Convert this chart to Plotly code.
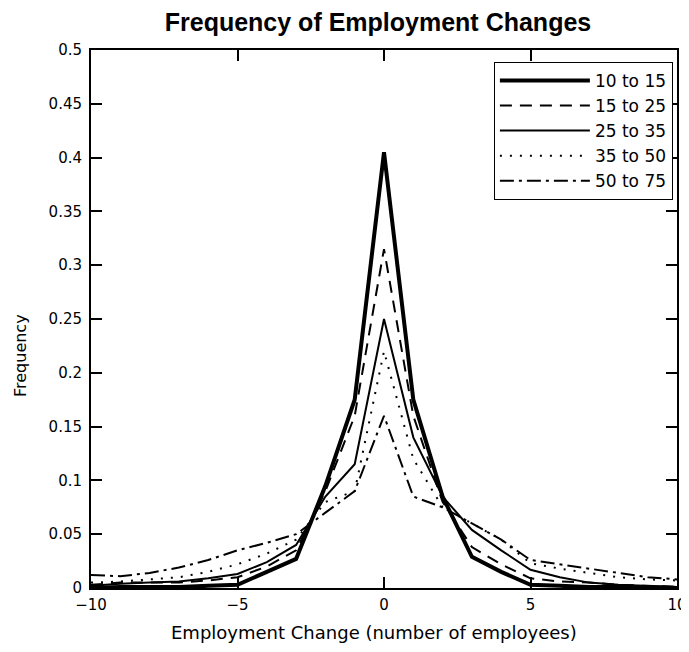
import plotly.graph_objects as go

x_change = list(range(-10, 11))

s_10_15 = [0.0, 0.001, 0.001, 0.001, 0.002, 0.003, 0.015, 0.027, 0.095, 0.175, 0.405,
           0.175, 0.085, 0.029, 0.015, 0.003, 0.002, 0.001, 0.001, 0.001, 0.0]
s_15_25 = [0.003, 0.005, 0.005, 0.005, 0.007, 0.01, 0.02, 0.035, 0.09, 0.16, 0.315,
           0.16, 0.08, 0.038, 0.022, 0.009, 0.006, 0.005, 0.003, 0.002, 0.001]
s_25_35 = [0.002, 0.004, 0.005, 0.006, 0.009, 0.013, 0.024, 0.04, 0.085, 0.115, 0.25,
           0.14, 0.085, 0.054, 0.035, 0.017, 0.01, 0.005, 0.003, 0.002, 0.001]
s_35_50 = [0.005, 0.006, 0.008, 0.01, 0.015, 0.022, 0.032, 0.045, 0.08, 0.09, 0.22,
           0.12, 0.075, 0.06, 0.045, 0.023, 0.018, 0.014, 0.01, 0.008, 0.007]
s_50_75 = [0.012, 0.011, 0.014, 0.019, 0.026, 0.035, 0.042, 0.05, 0.07, 0.09, 0.16,
           0.085, 0.075, 0.06, 0.045, 0.026, 0.022, 0.018, 0.014, 0.01, 0.008]

series_names = ["10 to 15", "15 to 25", "25 to 35", "35 to 50", "50 to 75"]
series_values = [s_10_15, s_15_25, s_25_35, s_35_50, s_50_75]
styles = [
    dict(width=4, dash="solid"),
    dict(width=2, dash="12px,8px"),
    dict(width=2, dash="solid"),
    dict(width=2, dash="2px,8px"),
    dict(width=2, dash="14px,5px,3px,5px"),
]

fig = go.Figure()
for i, (name, vals, st) in enumerate(zip(series_names, series_values, styles)):
    fig.add_trace(go.Scatter(
        x=x_change, y=vals, mode="lines", name=name, legendgroup=f"g{i}",
        line=dict(color="black", width=st["width"], dash=st["dash"]),
    ))

tick_font = "DejaVu Sans, Verdana, sans-serif"
title_font = "Liberation Sans, Arial, sans-serif"
axis_common = dict(
    showline=True, linecolor="black", linewidth=2, mirror="ticks",
    ticks="inside", ticklen=11, tickwidth=2, tickcolor="black",
    showgrid=False, zeroline=False, automargin=False,
    tickfont=dict(family=tick_font, size=15, color="black"),
)

# Note: the page body has an 8px default margin, so figure coords = screen - 8.
fig.update_layout(
    width=689, height=652,
    paper_bgcolor="white", plot_bgcolor="white",
    margin=dict(l=83, r=20, t=42, b=72),
    title=dict(text="<b>Frequency of Employment Changes</b>", x=0.537, xanchor="center",
               y=0.978, yanchor="middle",
               font=dict(family=title_font, size=25, color="black")),
    xaxis=dict(range=[-10, 10], tickvals=[-10, -5, 0, 5, 10], ticklabelstandoff=2,
               **axis_common),
    yaxis=dict(range=[0, 0.5], dtick=0.05, tick0=0, ticklabelstandoff=4,
               **axis_common),
    legend=dict(x=0.993, y=0.978, xanchor="right", yanchor="top",
                bgcolor="white", bordercolor="black", borderwidth=1,
                font=dict(family=tick_font, size=17, color="black"),
                itemwidth=90, tracegroupgap=0),
    annotations=[
        dict(text="Employment Change (number of employees)", xref="paper", yref="paper",
             x=0.483, y=-0.0836, xanchor="center", yanchor="middle", showarrow=False,
             font=dict(family=tick_font, size=18, color="black")),
        dict(text="Frequency", xref="paper", yref="paper", textangle=-90,
             x=-0.1212, y=0.433, xanchor="center", yanchor="middle", showarrow=False,
             font=dict(family=tick_font, size=16, color="black")),
    ],
    showlegend=True,
)

fig.write_html("out.html")
